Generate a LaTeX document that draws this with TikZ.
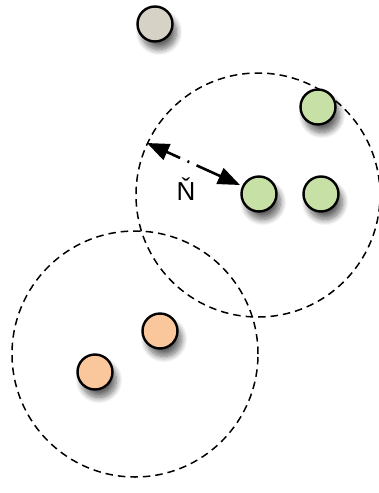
\documentclass[tikz,border=0pt]{standalone}
\usepackage{fontspec}
\setmainfont{Liberation Sans}
\usetikzlibrary{shadows.blur,arrows.meta,calc}
\definecolor{greyfill}{HTML}{D6D3C6}
\definecolor{greenfill}{HTML}{C6E0A6}
\definecolor{orangefill}{HTML}{FAC69C}
\tikzset{
  dot/.style={circle, draw=black, line width=2.4pt, minimum size=35pt, inner sep=0pt,
    blur shadow={shadow xshift=4pt, shadow yshift=-8pt, shadow blur steps=10, shadow blur radius=6pt, shadow opacity=60, shadow scale=1}},
  zone/.style={circle, draw=black, dash pattern=on 7.5pt off 5pt, line width=1.5pt, inner sep=0pt},
  distarrow/.style={{Triangle[length=22pt,width=17pt]}-{Triangle[length=22pt,width=17pt]}, line width=2.6pt, dash pattern=on 15pt off 8pt on 2pt off 8pt on 40pt}
}
\begin{document}
\begin{tikzpicture}[x=1pt,y=-1pt]
\useasboundingbox (0,0) rectangle (379,493);
\node[zone, minimum size=244pt] (zoneA) at (258,195) {};
\node[zone, minimum size=246pt] (zoneB) at (135,354) {};
\node[dot, fill=greyfill] (g) at (155,24) {};
\node[dot, fill=greenfill] (a1) at (318,107) {};
\node[dot, fill=greenfill] (a2) at (259,194) {};
\node[dot, fill=greenfill] (a3) at (321,194) {};
\node[dot, fill=orangefill] (b1) at (160,331) {};
\node[dot, fill=orangefill] (b2) at (95,372) {};
\coordinate (edge) at (147,143);
\coordinate (tipend) at (240,185);
\draw[distarrow] (edge) -- (tipend);
\node[font=\fontsize{26}{26}\selectfont, anchor=base, inner sep=0pt] (lbl) at (186,200) {Ň};
\end{tikzpicture}
\end{document}
